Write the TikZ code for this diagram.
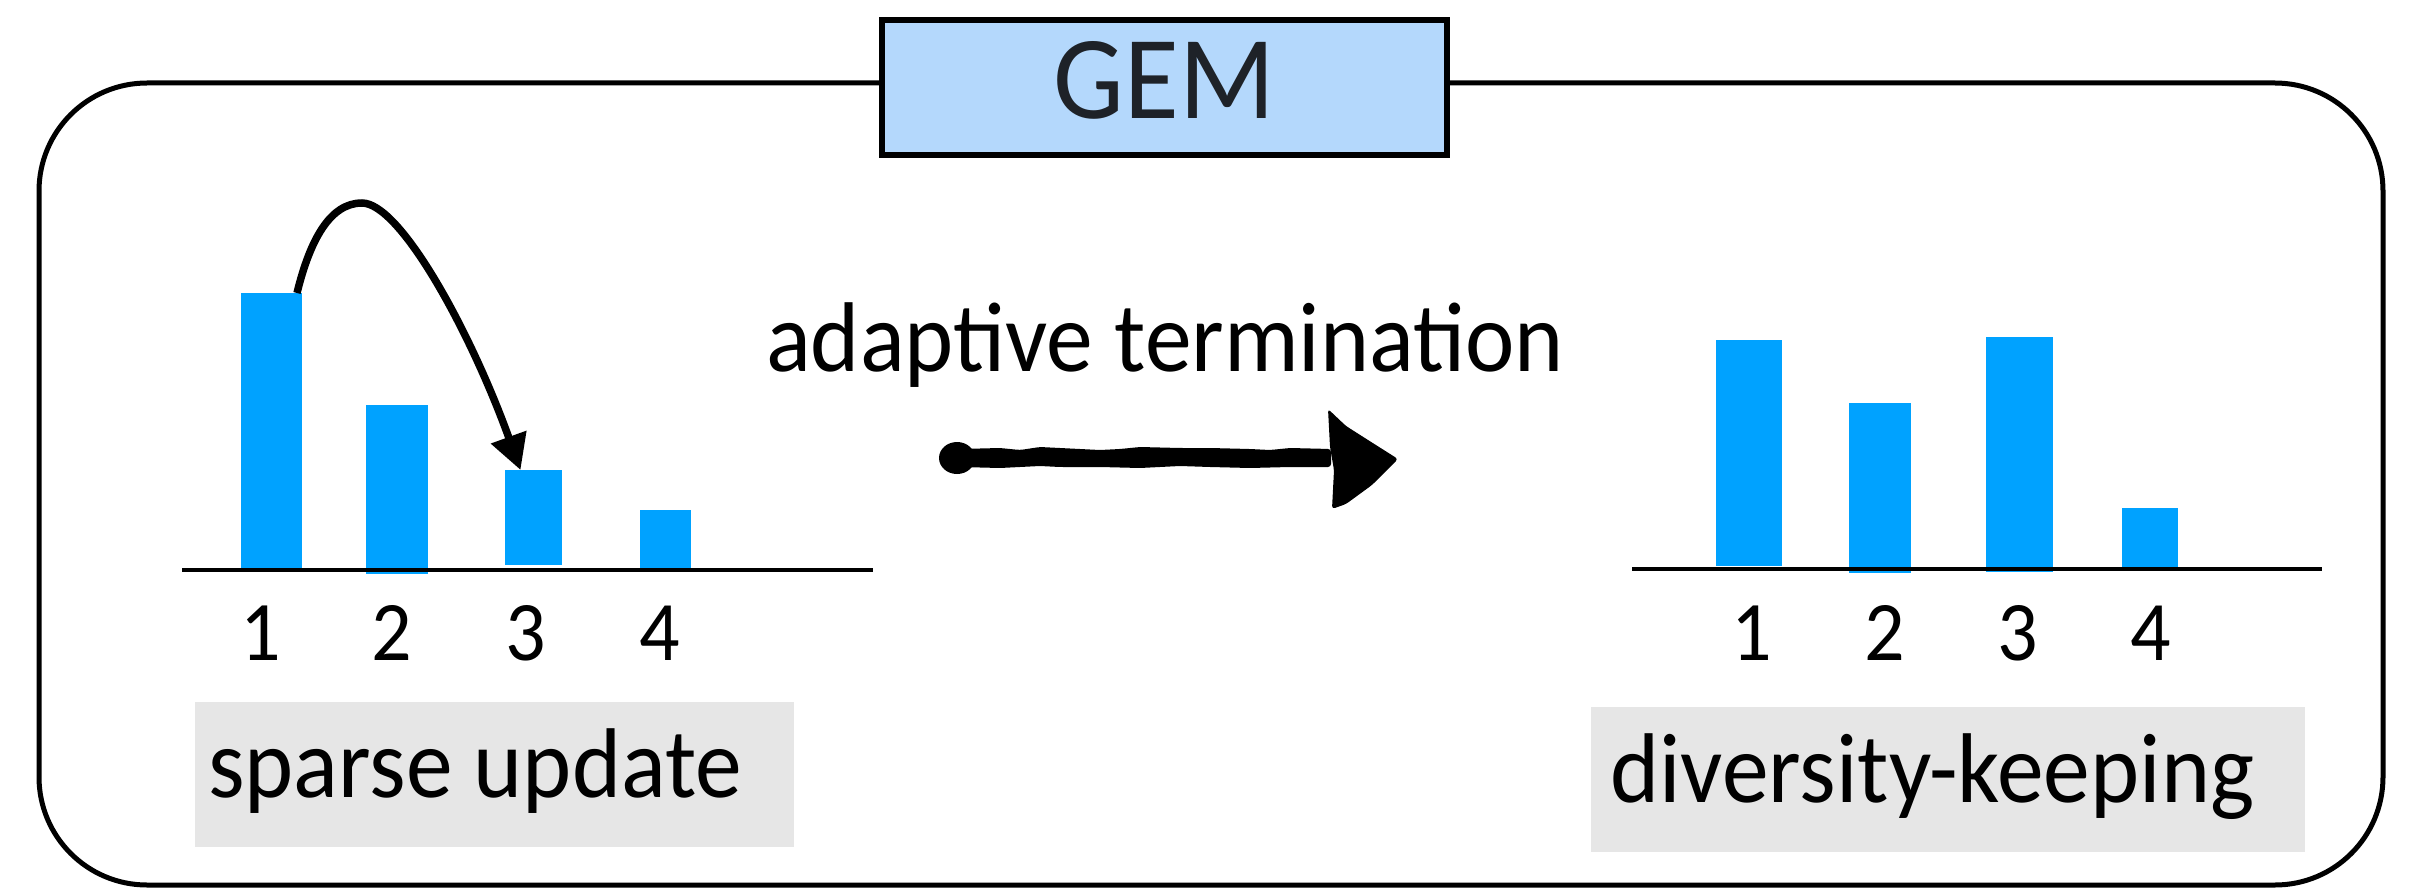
\documentclass[tikz,border=0pt]{standalone}
\usepackage{fontspec}
\setmainfont{Carlito}
\usepackage{graphicx}
\usetikzlibrary{arrows.meta}
\definecolor{barblue}{RGB}{0,162,255}
\definecolor{gemblue}{RGB}{180,216,252}
\definecolor{boxgray}{RGB}{230,230,230}
\definecolor{gemtext}{RGB}{30,34,40}
\newcommand{\vstretch}[1]{\scalebox{1}[1.06]{#1}}
\begin{document}
\begin{tikzpicture}[x=1pt,y=-1pt,
  bar/.style={fill=barblue, inner sep=0pt, outer sep=0pt, anchor=south west},
  frame/.style={draw=black, line width=5pt, rounded corners=108pt, inner sep=0pt},
  gembox/.style={draw=black, line width=5.5pt, fill=gemblue, inner sep=0pt,
    text=gemtext, font=\fontsize{112}{126}\selectfont, text height=75pt, text depth=12pt},
  graybox/.style={fill=boxgray, inner sep=0pt, anchor=north west},
  txt/.style={inner sep=0pt, anchor=base west, font=\fontsize{93.5}{112}\selectfont},
  digit/.style={inner sep=0pt, anchor=base, font=\fontsize{80}{96}\selectfont},
  axis/.style={line width=4.5pt},
  curvearrow/.style={line width=7.5pt, -{Triangle[length=35pt,width=36pt]}},
  roughfill/.style={fill=black, rounded corners=3pt}
]
\useasboundingbox (0,0) rectangle (2413,888);

% outer frame and title
\node[frame, minimum width=2344pt, minimum height=802pt] (frame) at (1211,484) {};
\node[gembox, minimum width=565pt, minimum height=135pt] (gem) at (1164.5,87.5) {\vstretch{GEM}};

% left bars
\node[bar, minimum width=61pt, minimum height=275pt] (l1) at (241,568) {};
\node[bar, minimum width=62pt, minimum height=169pt] (l2) at (366,574) {};
\node[bar, minimum width=57pt, minimum height=95pt]  (l3) at (505,565) {};
\node[bar, minimum width=51pt, minimum height=59pt]  (l4) at (640,569) {};
\draw[axis] (182,570) -- (873,570);

% right bars
\node[bar, minimum width=66pt, minimum height=226pt] (r1) at (1716,566) {};
\node[bar, minimum width=62pt, minimum height=170pt] (r2) at (1849,573) {};
\node[bar, minimum width=67pt, minimum height=235pt] (r3) at (1986,572) {};
\node[bar, minimum width=56pt, minimum height=60pt]  (r4) at (2122,568) {};
\draw[axis] (1632,569) -- (2322,569);

% digits
\node[digit] (dl1) at (261,660) {\vstretch{1}};
\node[digit] (dl2) at (392,660) {\vstretch{2}};
\node[digit] (dl3) at (526,660) {\vstretch{3}};
\node[digit] (dl4) at (660,660) {\vstretch{4}};
\node[digit] (dr1) at (1752,660) {\vstretch{1}};
\node[digit] (dr2) at (1885,660) {\vstretch{2}};
\node[digit] (dr3) at (2018,660) {\vstretch{3}};
\node[digit] (dr4) at (2151,660) {\vstretch{4}};

% gray label boxes
\node[graybox, minimum width=599pt, minimum height=145pt] (sbox) at (195,702) {};
\node[txt] (stext) at (208,797) {\vstretch{sparse update}};
\node[graybox, minimum width=714pt, minimum height=145pt] (dbox) at (1591,707) {};
\node[txt] (dtext) at (1610,802) {\vstretch{diversity-keeping}};

% middle label
\node[txt] (atext) at (766,371) {\vstretch{adaptive termination}};

% curved arrow from bar 1 to bar 3
\draw[curvearrow] ([xshift=-5pt]l1.north east) .. controls (310,240) and (330,203) .. (362,203)
  .. controls (400,203) and (470,330) .. ([xshift=-13pt]l3.north);

% hand-drawn thick arrow
\coordinate (ws) at (957,458);
\coordinate (wb) at (1331,458);
\coordinate (wt) at (1398,459);
\fill (ws) ellipse (18 and 16);
\fill[roughfill] (960,449) -- (1000,448) -- (1020,450) -- (1040,447) -- (1060,448)
  -- (1100,450) -- (1120,449) -- (1140,447) -- (1180,448) -- (1210,448)
  -- (1250,449) -- (1270,450) -- (1290,448) -- ([yshift=9pt]wb)
  -- ([yshift=-9pt]wb) -- (1290,467) -- (1250,468) -- (1210,467) -- (1180,466)
  -- (1140,468) -- (1100,467) -- (1060,467) -- (1040,466) -- (1000,468) -- (960,467) -- cycle;
\fill[roughfill] (1328,409) -- (1346,426) -- (1368,440) -- (wt)
  -- (1372,485) -- (1346,504) -- (1332,509) -- (1334,470) -- (1330,447) -- cycle;
\end{tikzpicture}
\end{document}
